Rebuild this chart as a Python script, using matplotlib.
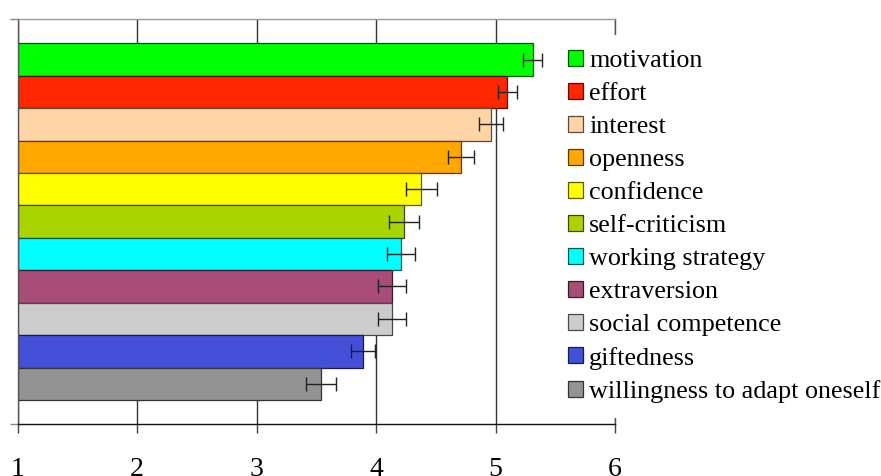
import matplotlib.pyplot as plt
import numpy as np
from matplotlib.colors import to_rgb

plt.rcParams['font.family'] = ['Liberation Serif', 'DejaVu Serif']

traits = ["motivation", "effort", "interest", "openness", "confidence",
          "self-criticism", "working strategy", "extraversion",
          "social competence", "giftedness", "willingness to adapt oneself"]
means = [5.31, 5.10, 4.96, 4.71, 4.38, 4.23, 4.21, 4.13, 4.13, 3.89, 3.54]
errors = [0.08, 0.077, 0.10, 0.107, 0.126, 0.126, 0.117, 0.117, 0.117, 0.10, 0.126]
colors = ["#00ff00", "#ff2600", "#ffd5a8", "#ffa800", "#ffff00", "#aad400",
          "#00ffff", "#a84c78", "#cccccc", "#4450d8", "#939393"]
xticks = [1, 2, 3, 4, 5, 6]


def darker(c, f=0.35):
    return tuple(v * f for v in to_rgb(c))


fig = plt.figure(figsize=(8.81, 4.76), dpi=100)
ax = fig.add_axes([17.7 / 881, 1 - 424.3 / 476, (615 - 17.7) / 881, (424.3 - 19) / 476])

y = np.arange(len(traits))
base = 1
bars = []
for i in range(len(traits)):
    b = ax.barh(y[i], means[i] - base, left=base, height=1.0, color=colors[i],
                edgecolor=darker(colors[i]), linewidth=0.9, label=traits[i], zorder=2)
    bars.append(b)
ax.errorbar(means, y, xerr=errors, fmt='none', ecolor='#222222', elinewidth=1,
            capsize=4.8, capthick=1, zorder=3)

ax.set_xlim(1, 6)
ax.set_ylim(len(traits) - 1 + 1.25, -1.25)
ax.set_xticks(xticks)
ax.set_xticklabels([str(t) for t in xticks], fontsize=20)
ax.tick_params(axis='x', length=6.5, width=1, color='#444444', pad=17)
ax.set_yticks(ax.get_ylim())
ax.set_yticklabels([])
ax.tick_params(axis='y', length=5.5, width=1, color='#888888')
ax.xaxis.grid(True, color='#333333', linewidth=1)
ax.set_axisbelow(True)

ax.spines['top'].set_color('#999999')
ax.spines['right'].set_color('#555555')
ax.spines['left'].set_color('#555555')
ax.spines['bottom'].set_color('#111111')
for s in ax.spines.values():
    s.set_linewidth(1)

leg = fig.legend(handles=[b[0] for b in bars], labels=traits,
                 loc='upper left', bbox_to_anchor=(553 / 881, 1 - 35 / 476),
                 fontsize=18.8, frameon=True, fancybox=False,
                 handlelength=0.57, handleheight=0.57, handletextpad=0.25,
                 labelspacing=0.41, borderpad=0.57, borderaxespad=0)
leg.get_frame().set_facecolor('white')
leg.get_frame().set_edgecolor('none')
leg.get_frame().set_alpha(1)

fig.savefig("out.png", dpi=100)
